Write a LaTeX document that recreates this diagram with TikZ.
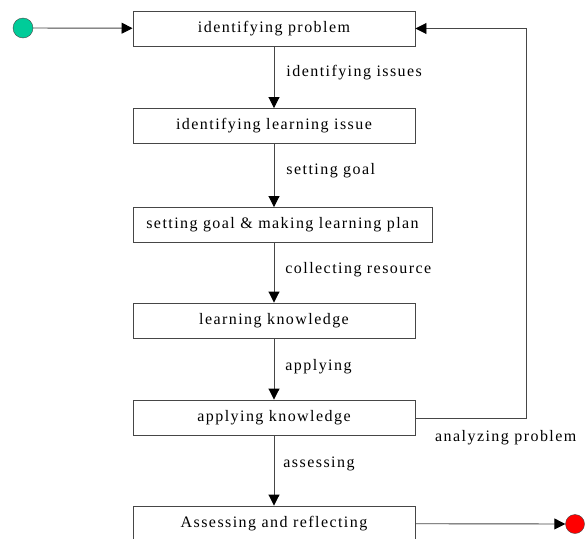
\documentclass[tikz,border=0pt]{standalone}
\usepackage{fontspec}
\setmainfont[LetterSpace=9]{Liberation Serif}
\usepackage{tikz}
\usetikzlibrary{arrows.meta}

\definecolor{startgreen}{RGB}{0,204,153}
\definecolor{linegray}{RGB}{70,70,70}

\begin{document}
\begin{tikzpicture}[
	x=1pt, y=-1pt,
	font=\fontsize{16}{19}\selectfont,
	stepbox/.style={draw=linegray, line width=0.9pt, fill=white, inner sep=0pt,
		minimum width=282pt, minimum height=35pt},
	lbl/.style={inner sep=0pt, anchor=west},
	flow/.style={draw=linegray, line width=0.9pt,
		-{Triangle[length=11pt,width=11pt,fill=black,color=black]}},
	]
	
	\useasboundingbox (0,0) rectangle (585,538);
	
	%% ── Start and end states ──────────────────────────────────────────────
	\node[circle, draw=linegray, fill=startgreen, minimum size=20pt, inner sep=0pt] (start) at (23,28) {};
	\node[circle, draw=linegray, fill=red, minimum size=19pt, inner sep=0pt] (stop) at (575,524) {};
	
	%% ── Activity boxes ────────────────────────────────────────────────────
	\node[stepbox] (b1) at (274,28.5)   {identifying problem};
	\node[stepbox] (b2) at (274,126)    {identifying learning issue};
	\node[stepbox, minimum width=299pt] (b3) at (282.5,225) {setting goal \& making learning plan};
	\node[stepbox] (b4) at (274,320.5)  {learning knowledge};
	\node[stepbox] (b5) at (274,417.5)  {applying knowledge};
	\node[stepbox] (b6) at (274,523.5)  {Assessing and reflecting};
	
	\coordinate (fb) at (526,418);
	
	%% ── Transitions ───────────────────────────────────────────────────────
	\draw[flow] (start) -- (b1);
	\draw[flow] (b1) -- node[lbl, pos=0.42, xshift=12pt] {identifying issues} (b2);
	\draw[flow] (b2.south) -- node[lbl, pos=0.42, xshift=12pt] {setting goal} (b2.south |- b3.north);
	\draw[flow] (b4.north |- b3.south) -- node[lbl, pos=0.45, xshift=11pt] {collecting resource} (b4.north);
	\draw[flow] (b4) -- node[lbl, pos=0.47, xshift=11pt] {applying} (b5);
	\draw[flow] (b5) -- node[lbl, pos=0.4, xshift=9pt] {assessing} (b6);
	\draw[flow] (b6) -- (stop);
	\draw[flow] (b5.east |- fb) -- (fb) |- (b1.east);
	
	\node[lbl] (analyze) at (435,438) {analyzing problem};
	
\end{tikzpicture}
\end{document}
